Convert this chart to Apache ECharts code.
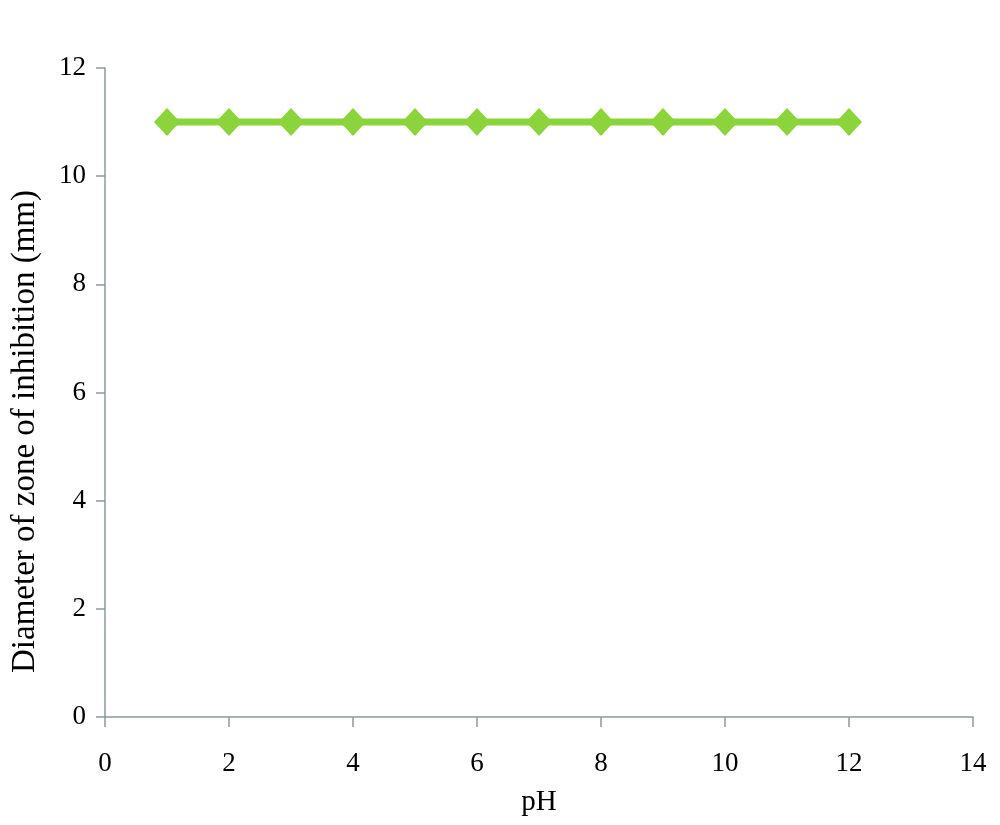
<!DOCTYPE html>
<html><head><meta charset="utf-8">
<script src="https://cdn.jsdelivr.net/npm/echarts@6/dist/echarts.min.js"></script>
<style>html,body{margin:0;padding:0;background:#fff}#c{width:1000px;height:825px}</style>
</head><body><div id="c"></div>
<script>
const pH = [1, 2, 3, 4, 5, 6, 7, 8, 9, 10, 11, 12];
const zone = [11, 11, 11, 11, 11, 11, 11, 11, 11, 11, 11, 11];
const xTitle = 'pH';
const yTitle = 'Diameter of zone of inhibition (mm)';
const chart = echarts.init(document.getElementById('c'));
const axisColor = '#8c9a9a';
const font = '"Liberation Serif", serif';
chart.setOption({
  animation: false,
  grid: {left: 105, right: 27, top: 68, bottom: 108, containLabel: false, outerBoundsMode: 'none'},
  xAxis: {
    type: 'value', min: 0, max: 14, interval: 2,
    name: xTitle, nameLocation: 'middle', nameGap: 71,
    nameTextStyle: {fontFamily: font, fontSize: 29, color: '#000'},
    axisLine: {onZero: false, lineStyle: {color: axisColor, width: 1.5}},
    axisTick: {show: true, length: 10, lineStyle: {color: axisColor, width: 1.5}},
    axisLabel: {fontFamily: font, fontSize: 27, color: '#000', margin: 33},
    splitLine: {show: false}
  },
  yAxis: {
    type: 'value', min: 0, max: 12, interval: 2,
    name: yTitle, nameLocation: 'middle', nameGap: 63, nameRotate: 90,
    nameTextStyle: {fontFamily: font, fontSize: 33, color: '#000', padding: [0, 78, 0, 0]},
    axisLine: {show: true, lineStyle: {color: axisColor, width: 1.5}},
    axisTick: {show: true, length: 9, lineStyle: {color: axisColor, width: 1.5}},
    axisLabel: {fontFamily: font, fontSize: 27, color: '#000', margin: 19},
    splitLine: {show: false}
  },
  series: [{
    type: 'line',
    data: pH.map((x, i) => [x, zone[i]]),
    symbol: 'diamond', symbolSize: [26, 28],
    lineStyle: {color: '#8cd43c', width: 7},
    itemStyle: {color: '#8cd43c'}
  }]
});
</script></body></html>
